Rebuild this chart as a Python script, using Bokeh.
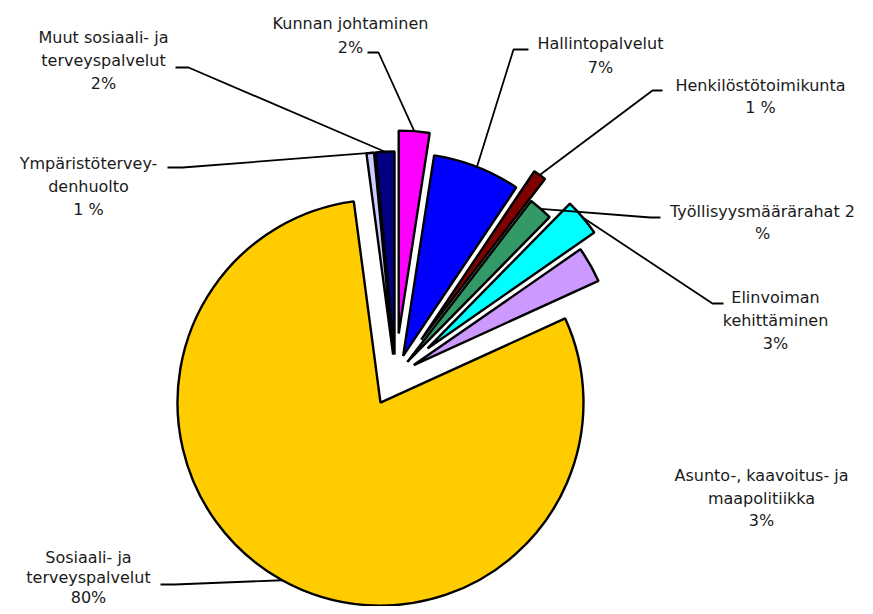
import math
from bokeh.plotting import figure
from bokeh.models import Range1d, ColumnDataSource
from bokeh.core.properties import value
from bokeh.embed import file_html
from bokeh.resources import INLINE

# ---- data (clockwise from 12 o'clock) ----
categories = [
    "Kunnan johtaminen",
    "Hallintopalvelut",
    "Henkilöstötoimikunta",
    "Työllisyysmäärärahat",
    "Elinvoiman kehittäminen",
    "Asunto-, kaavoitus- ja maapolitiikka",
    "Sosiaali- ja terveyspalvelut",
    "Ympäristöterveydenhuolto",
    "Muut sosiaali- ja terveyspalvelut",
]
shares = [2.44, 6.97, 1.03, 1.92, 2.97, 2.86, 79.7, 0.6, 1.5]
label_lines = [
    ["Kunnan johtaminen", "2%"],
    ["Hallintopalvelut", "7%"],
    ["Henkilöstötoimikunta", "1 %"],
    ["Työllisyysmäärärahat 2", "%"],
    ["Elinvoiman", "kehittäminen", "3%"],
    ["Asunto-, kaavoitus- ja", "maapolitiikka", "3%"],
    ["Sosiaali- ja", "terveyspalvelut", "80%"],
    ["Ympäristötervey-", "denhuolto", "1 %"],
    ["Muut sosiaali- ja", "terveyspalvelut", "2%"],
]

# ---- styles / layout ----
colors = ["#FF00FF", "#0000FF", "#800000", "#339966", "#00FFFF",
          "#CC99FF", "#FFCC00", "#CCCCFF", "#000080"]
explode = [42, 21, 44, 18, 42, 21, 31, 21, 21]
CX, CY, R = 395, 375, 203
label_pos = [(350, 23), (600, 43), (760, 85), (762, 211), (775, 297),
             (761, 475), (88, 557), (88, 163), (103, 37)]
line_h = [24, 24, 22, 22, 23, 22.5, 20, 23, 23]
leader_start = [(367, 378, 52), (528, 513, 49), (662, 652, 90),
                (660, 650, 217), (723, 712, 303), None,
                (160, 174, 584), (167, 182, 167), (175, 188, 67)]
FONT = "DejaVu Sans"

W, H = 865, 606
p = figure(width=W, height=H, output_backend="svg", toolbar_location=None,
           x_range=Range1d(0, W), y_range=Range1d(-H, 0),
           x_axis_type=None, y_axis_type=None, min_border=0)
p.outline_line_color = None
p.grid.visible = False
p.background_fill_color = "white"

total = sum(shares)
theta = 0.0
wx, wy, sa, ea, leader_end = [], [], [], [], []
for s, e in zip(shares, explode):
    t1 = theta
    t2 = theta + s / total * 360.0
    tm = math.radians((t1 + t2) / 2)
    ox = CX + e * math.sin(tm)
    oy = CY - e * math.cos(tm)
    wx.append(ox)
    wy.append(-oy)
    sa.append(math.radians(90 - t2))
    ea.append(math.radians(90 - t1))
    leader_end.append((CX + (e + R) * math.sin(tm), CY - (e + R) * math.cos(tm)))
    theta = t2

src = ColumnDataSource(dict(x=wx, y=wy, start=sa, end=ea, color=colors, name=categories))
p.wedge(x="x", y="y", radius=R, start_angle="start", end_angle="end",
        direction="anticlock", fill_color="color", line_color="black",
        line_width=2.4, source=src)

# leader lines
for ls, le in zip(leader_start, leader_end):
    if ls is None:
        continue
    xs = [ls[0], ls[1], le[0]]
    ys = [-ls[2], -ls[2], -le[1]]
    p.line(xs, ys, line_color="black", line_width=1.8)

# labels
tx, ty, tt = [], [], []
for lines, (lx, ly), lh in zip(label_lines, label_pos, line_h):
    for i, t in enumerate(lines):
        tx.append(lx)
        ty.append(-(ly + i * lh))
        tt.append(t)
p.text(x=tx, y=ty, text=tt, text_align="center", text_baseline="middle",
       text_font=value(FONT), text_font_size="16px", text_color="#1a1a1a")

open("out.html", "w").write(file_html(p, INLINE))
